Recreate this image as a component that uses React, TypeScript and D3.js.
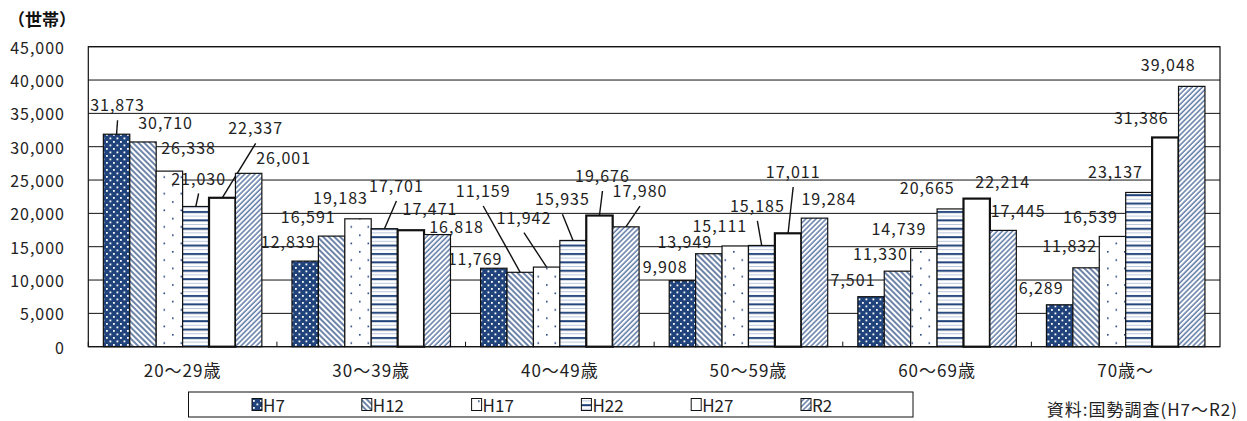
import React from "react";
import * as d3 from "d3";

// 年齢階級別 世帯数の推移
const categories = ["20〜29歳", "30〜39歳", "40〜49歳", "50〜59歳", "60〜69歳", "70歳〜"];
const seriesNames = ["H7", "H12", "H17", "H22", "H27", "R2"];
const h7 = [31873, 12839, 11769, 9908, 7501, 6289];
const h12 = [30710, 16591, 11159, 13949, 11330, 11832];
const h17 = [26338, 19183, 11942, 15111, 14739, 16539];
const h22 = [21030, 17701, 15935, 15185, 20665, 23137];
const h27 = [22337, 17471, 19676, 17011, 22214, 31386];
const r2 = [26001, 16818, 17980, 19284, 17445, 39048];
const seriesValues = [h7, h12, h17, h22, h27, r2];
const yTicks = [0, 5000, 10000, 15000, 20000, 25000, 30000, 35000, 40000, 45000];

// label placement relative to the top centre of each bar: [dx, dy, leader]
const labelPlacement: [number, number, boolean][][] = [
  [[1, -30, true], [-17, -20, false], [-18.7, -10.7, false], [-17.3, -14.6, false], [-18, -17.7, false], [-18.5, -17.3, false]],
  [[22.6, -19.5, false], [-23.3, -20, false], [-37, -82.3, true], [-24, -12.7, false], [-17, -18.2, false], [-16.4, -22.5, false]],
  [[19.2, -24.6, false], [-17.5, -22, false], [-22.7, -50.4, true], [-15.4, -21, false], [-25, -20.4, false], [-22, -20.4, false]],
  [[2.8, -29, true], [12, -43.7, true], [-10.6, -42.2, true], [-4.3, -40.5, true], [-23, -22, false], [-23.4, -21, false]],
  [[33.4, -70.3, true], [19.2, -22.7, false], [3, -40.5, true], [5.1, -62.3, true], [26, -17.6, false], [-24, -20.5, false]],
  [[35, -16.4, false], [19.3, -8.6, false], [14.1, -36.8, true], [14.4, -20, false], [15, -20.4, false], [-23.5, -22.4, false]],
];

const NAVY = "#20437b";
const FONT = "'Noto Sans CJK JP', 'Noto Sans', sans-serif";
const fmt = d3.format(",");

const W = 1247;
const H = 421;
const plot = { left: 88.3, right: 1220, top: 46.7, bottom: 346.7 };

const fills = ["url(#pH7)", "url(#pH12)", "url(#pH17)", "url(#pH22)", "#ffffff", "url(#pR2)"];

function Patterns() {
  return (
    <defs>
      <pattern id="pH7" patternUnits="userSpaceOnUse" width={7} height={7}>
        <rect width={7} height={7} fill={NAVY} />
        <rect x={1} y={1} width={1.8} height={1.8} fill="#ffffff" />
        <rect x={4.5} y={4.5} width={1.8} height={1.8} fill="#ffffff" />
      </pattern>
      <pattern id="pH12" patternUnits="userSpaceOnUse" width={4} height={4} patternTransform="rotate(-45)">
        <rect width={4} height={4} fill="#ffffff" />
        <line x1={1} y1={0} x2={1} y2={4} stroke={NAVY} strokeWidth={1.3} />
      </pattern>
      <pattern id="pH17" patternUnits="userSpaceOnUse" width={17} height={16.6}>
        <rect width={17} height={16.6} fill="#ffffff" />
        <rect x={2} y={2} width={1.6} height={1.6} fill={NAVY} />
        <rect x={10.5} y={10.3} width={1.6} height={1.6} fill={NAVY} />
      </pattern>
      <pattern id="pH22" patternUnits="userSpaceOnUse" width={10} height={8.4}>
        <rect width={10} height={8.4} fill="#ffffff" />
        <rect y={1} width={10} height={2} fill={NAVY} />
        <rect y={5.6} width={10} height={1} fill="#b9c6dc" />
      </pattern>
      <pattern id="pR2" patternUnits="userSpaceOnUse" width={3.6} height={3.6} patternTransform="rotate(45)">
        <rect width={3.6} height={3.6} fill="#ffffff" />
        <line x1={1} y1={0} x2={1} y2={3.6} stroke="#264a85" strokeWidth={1.1} />
      </pattern>
    </defs>
  );
}

export default function App() {
  const x0 = d3.scaleBand<string>().domain(categories).range([plot.left, plot.right]).paddingInner(0).paddingOuter(0);
  const x1 = d3
    .scaleBand<string>()
    .domain(seriesNames)
    .range([0, x0.bandwidth()])
    .paddingInner(0)
    .paddingOuter(0.57);
  const y = d3.scaleLinear().domain([0, 45000]).range([plot.bottom, plot.top]);
  const bw = x1.bandwidth();

  const seriesBars = seriesNames.map((s, si) =>
    categories.map((c, ci) => {
      const v = seriesValues[si][ci];
      const x = (x0(c) ?? 0) + (x1(s) ?? 0);
      return { si, ci, v, x, cx: x + bw / 2, top: y(v) };
    })
  );

  const legendX = 252;
  const legendStep = 109.8;

  return (
    <svg
      width={W}
      height={H}
      viewBox={`0 0 ${W} ${H}`}
      style={{ position: "absolute", left: 0, top: 0, background: "#ffffff" }}
      fontFamily={FONT}
    >
      <Patterns />
      <rect width={W} height={H} fill="#ffffff" />

      {/* unit */}
      <text x={8} y={18} fontSize={17} fontWeight={700} dominantBaseline="central" fill="#111">
        （世帯）
      </text>

      {/* grid and y axis labels */}
      {yTicks.map((t) => (
        <g key={t}>
          <line x1={plot.left} x2={plot.right} y1={y(t)} y2={y(t)} stroke="#111" strokeWidth={1} />
          <text
            x={65}
            y={y(t)}
            textAnchor="end"
            dominantBaseline="central"
            fontSize={16}
            letterSpacing={1}
            fill="#222"
          >
            {fmt(t)}
          </text>
        </g>
      ))}

      {/* each series: bars, then its leader lines and value labels */}
      {seriesBars.map((bars, si) => (
        <g key={`s${si}`}>
          {bars.map((b) => (
            <rect
              key={`b${b.ci}`}
              x={b.x}
              y={b.top}
              width={bw}
              height={plot.bottom - b.top}
              fill={fills[si]}
              stroke="#111"
              strokeWidth={si === 4 ? 2.2 : 1.2}
            />
          ))}
          {bars.map((b) => {
            const [dx, dy, leader] = labelPlacement[si][b.ci];
            return (
              <g key={`l${b.ci}`}>
                {leader && (
                  <line
                    x1={b.cx}
                    y1={b.top}
                    x2={b.cx + dx}
                    y2={b.top + dy + 16}
                    stroke="#111"
                    strokeWidth={1.4}
                  />
                )}
                <text
                  x={b.cx + dx}
                  y={b.top + dy}
                  textAnchor="middle"
                  dominantBaseline="central"
                  fontSize={16}
                  letterSpacing={1}
                  fill="#222"
                >
                  {fmt(b.v)}
                </text>
              </g>
            );
          })}
        </g>
      ))}

      {/* plot frame */}
      <rect
        x={plot.left}
        y={plot.top}
        width={plot.right - plot.left}
        height={plot.bottom - plot.top}
        fill="none"
        stroke="#111"
        strokeWidth={1.2}
      />

      {/* category ticks */}
      {categories.map((c) => {
        const xt = x0(c) ?? 0;
        return <line key={`t${c}`} x1={xt} x2={xt} y1={plot.bottom - 5} y2={plot.bottom} stroke="#111" />;
      })}

      {/* category labels */}
      {categories.map((c) => (
        <text
          key={`c${c}`}
          x={(x0(c) ?? 0) + x0.bandwidth() / 2}
          y={369}
          textAnchor="middle"
          dominantBaseline="central"
          fontSize={17}
          letterSpacing={1}
          fill="#222"
        >
          {c}
        </text>
      ))}

      {/* legend */}
      <rect x={188.5} y={392} width={724.5} height={25} fill="#ffffff" stroke="#111" strokeWidth={1} />
      {seriesNames.map((s, i) => {
        const lx = legendX + i * legendStep;
        return (
          <g key={`g${s}`}>
            <rect x={lx} y={398.5} width={10} height={12} fill={fills[i]} stroke="#111" strokeWidth={1} />
            <text x={lx + 11} y={404.5} dominantBaseline="central" fontSize={17} fill="#222">
              {s}
            </text>
          </g>
        );
      })}

      {/* source */}
      <text
        x={1238}
        y={408}
        textAnchor="end"
        dominantBaseline="central"
        fontSize={17}
        letterSpacing={1}
        fill="#222"
      >
        資料:国勢調査(H7〜R2)
      </text>
    </svg>
  );
}
